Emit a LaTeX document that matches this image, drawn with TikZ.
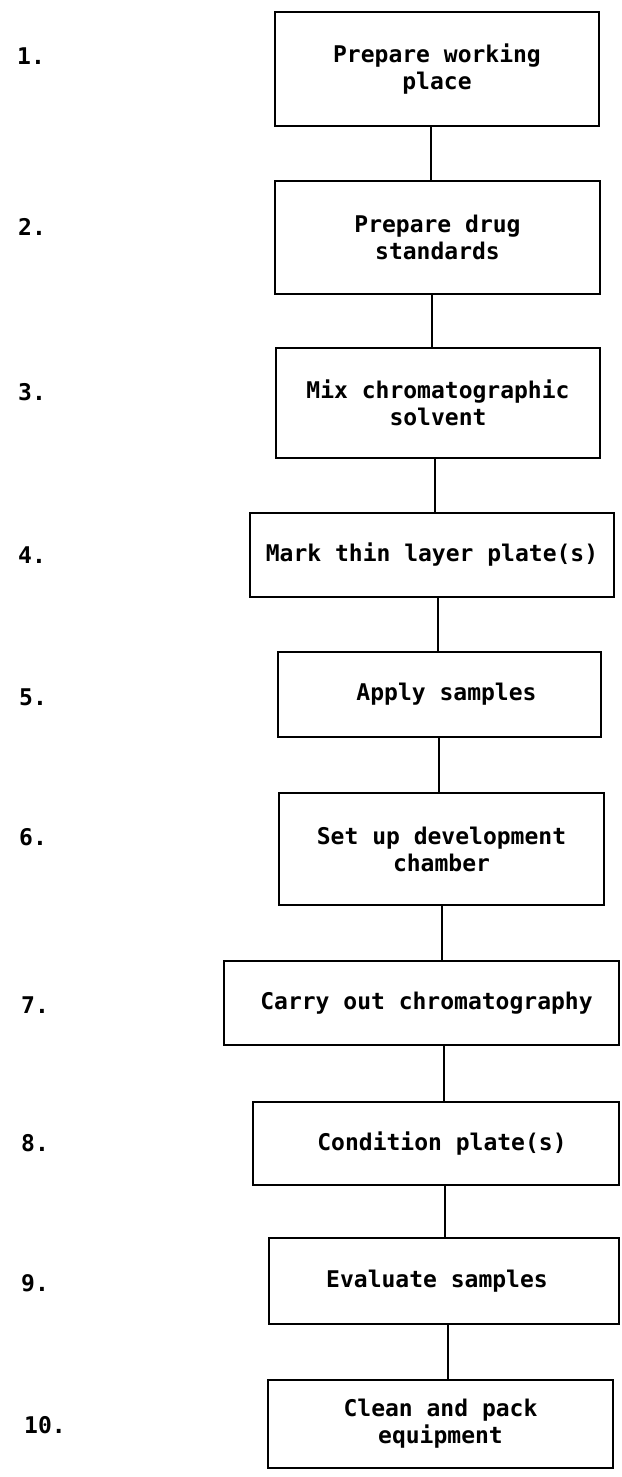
\documentclass[tikz,border=0pt]{standalone}
\usepackage{fontspec}
\newfontfamily\mono{DejaVu Sans Mono Bold}
\begin{document}
\begin{tikzpicture}[x=1pt,y=1pt,
  stepbox/.style={draw=black, line width=2pt, inner sep=0pt, align=center,
    font=\mono\fontsize{23}{27}\selectfont},
  numlabel/.style={anchor=west, inner sep=0pt, font=\mono\fontsize{23}{27}\selectfont},
  conn/.style={draw=black, line width=1.5pt}]
\useasboundingbox (0,0) rectangle (621,-1477);
% boxes: center at ((l+r)/2, -(t+b)/2), size (r-l) x (b-t)
\node[stepbox, minimum width=324pt, minimum height=114pt] (b1) at (437,-69) {Prepare working\\place};
\node[stepbox, minimum width=325pt, minimum height=113pt] (b2) at (437.5,-237.5) {Prepare drug\\standards};
\node[stepbox, minimum width=324pt, minimum height=110pt] (b3) at (438,-403) {Mix chromatographic\\solvent};
\node[stepbox, minimum width=364pt, minimum height=84pt] (b4) at (432,-555) {Mark thin layer plate(s)};
\node[stepbox, minimum width=323pt, minimum height=85pt] (b5) at (439.5,-694.5) {\hspace*{14pt}Apply samples};
\node[stepbox, minimum width=325pt, minimum height=112pt] (b6) at (441.5,-849) {Set up development\\chamber};
\node[stepbox, minimum width=395pt, minimum height=84pt] (b7) at (421.5,-1003) {\hspace*{10pt}Carry out chromatography};
\node[stepbox, minimum width=366pt, minimum height=83pt] (b8) at (436,-1143.5) {\hspace*{12pt}Condition plate(s)};
\node[stepbox, minimum width=350pt, minimum height=86pt] (b9) at (444,-1281) {Evaluate samples\hspace*{14pt}};
\node[stepbox, minimum width=345pt, minimum height=88pt] (b10) at (440.5,-1424) {Clean and pack\\equipment};
% step numbers
\node[numlabel] (n1) at (17,-56) {1.};
\node[numlabel] (n2) at (18,-227) {2.};
\node[numlabel] (n3) at (18,-392) {3.};
\node[numlabel] (n4) at (18,-555) {4.};
\node[numlabel] (n5) at (19,-697) {5.};
\node[numlabel] (n6) at (19,-837) {6.};
\node[numlabel] (n7) at (21,-1005) {7.};
\node[numlabel] (n8) at (21,-1143) {8.};
\node[numlabel] (n9) at (21,-1283) {9.};
\node[numlabel] (n10) at (24,-1425) {10.};
% connectors
\draw[conn] (b1.south -| 431,0) -- (b2.north -| 431,0);
\draw[conn] (b2.south -| 432,0) -- (b3.north -| 432,0);
\draw[conn] (b3.south -| 435,0) -- (b4.north -| 435,0);
\draw[conn] (b4.south -| 438,0) -- (b5.north -| 438,0);
\draw[conn] (b5.south -| 439,0) -- (b6.north -| 439,0);
\draw[conn] (b6.south -| 442,0) -- (b7.north -| 442,0);
\draw[conn] (b7.south -| 444,0) -- (b8.north -| 444,0);
\draw[conn] (b8.south -| 445,0) -- (b9.north -| 445,0);
\draw[conn] (b9.south -| 448,0) -- (b10.north -| 448,0);
\end{tikzpicture}
\end{document}
